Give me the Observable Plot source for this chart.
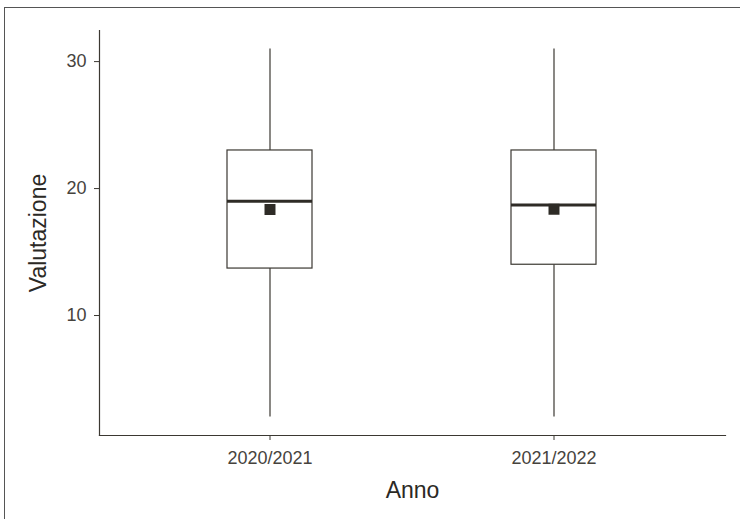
<!DOCTYPE html>
<html>
<head>
<meta charset="utf-8">
<script src="https://cdn.jsdelivr.net/npm/d3@7"></script>
<script src="https://cdn.jsdelivr.net/npm/@observablehq/plot@0.6"></script>
<style>
  html, body { margin: 0; padding: 0; background: #fff; }
  #wrap { position: relative; width: 740px; height: 519px; overflow: hidden; }
  #frame { position: absolute; left: 4px; top: 7px; width: 800px; height: 600px;
           border-top: 1.5px solid #555; border-left: 1.5px solid #555; pointer-events: none; }
  svg { display: block; }
</style>
</head>
<body>
<div id="wrap"><div id="frame"></div></div>
<script>
const categories = ["2020/2021", "2021/2022"];
const mins   = [2, 2];
const q1s    = [13.7, 14.0];
const medians= [19.0, 18.7];
const q3s    = [23.0, 23.0];
const maxs   = [31.0, 31.0];
const means  = [18.35, 18.37];
const yTicks = [10, 20, 30];

const data = categories.map((c, i) => ({
  anno: c, min: mins[i], q1: q1s[i], med: medians[i], q3: q3s[i], max: maxs[i], mean: means[i]
}));

const ink = "#3b3832";
const tickText = "#46433d";

const chart = Plot.plot({
  width: 740,
  height: 519,
  marginLeft: 99,
  marginRight: 15,
  marginTop: 30,
  marginBottom: 84,
  style: { fontFamily: "'Liberation Sans', Arial, Helvetica, sans-serif", background: "transparent", color: tickText },
  x: { type: "band", domain: categories, paddingInner: 0.7, paddingOuter: 0.45 },
  y: { domain: [0.55, 32.45] },
  marks: [
    Plot.ruleX(data, { x: "anno", y1: "min", y2: "q1", stroke: ink, strokeWidth: 1.2 }),
    Plot.ruleX(data, { x: "anno", y1: "q3", y2: "max", stroke: ink, strokeWidth: 1.2 }),
    Plot.barY(data, { x: "anno", y1: "q1", y2: "q3", fill: "white", stroke: ink, strokeWidth: 1.2 }),
    Plot.tickY(data, { x: "anno", y: "med", stroke: "#2e2b26", strokeWidth: 3 }),
    Plot.dot(data, { x: "anno", y: "mean", symbol: "square", r: 6.2, fill: "#2e2b26", stroke: "none" }),
    Plot.axisY({ ticks: yTicks, tickSize: 5, tickPadding: 8, fontSize: 18, label: null, stroke: ink, fill: tickText }),
    Plot.axisX({ tickSize: 5, tickPadding: 11, fontSize: 18, label: null, stroke: ink, fill: tickText }),
    Plot.frame({ anchor: "left", stroke: ink, strokeWidth: 1.2 }),
    Plot.frame({ anchor: "bottom", stroke: ink, strokeWidth: 1.2 }),
    Plot.text(["Anno"], { frameAnchor: "bottom", dy: 62, text: d => d, fontSize: 23, fill: "#2b2925", textAnchor: "middle" }),
    Plot.text(["Valutazione"], { frameAnchor: "left", dx: -61, rotate: -90, text: d => d, fontSize: 23, fill: "#2b2925", textAnchor: "middle" })
  ]
});
document.getElementById("wrap").prepend(chart);
</script>
</body>
</html>
